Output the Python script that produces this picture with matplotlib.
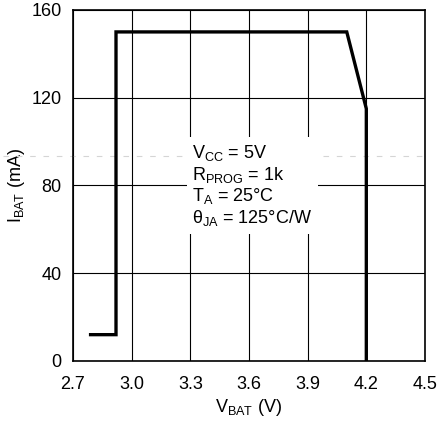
import matplotlib
matplotlib.use("Agg")
import matplotlib.pyplot as plt
from matplotlib.lines import Line2D

# Data
v_bat = [2.79, 2.92, 2.92, 4.10, 4.20, 4.20]
i_bat = [12, 12, 150, 150, 115, 0]
x_ticks = [2.7, 3.0, 3.3, 3.6, 3.9, 4.2, 4.5]
x_tick_labels = ["2.7", "3.0", "3.3", "3.6", "3.9", "4.2", "4.5"]
y_ticks = [0, 40, 80, 120, 160]
y_tick_labels = ["0", "40", "80", "120", "160"]

FONT = ["Liberation Sans Narrow", "Liberation Sans", "DejaVu Sans"]
plt.rcParams["font.family"] = FONT
plt.rcParams["mathtext.fontset"] = "custom"
plt.rcParams["mathtext.rm"] = "Liberation Sans"
plt.rcParams["mathtext.it"] = "Liberation Sans"
plt.rcParams["mathtext.default"] = "rm"

fig = plt.figure(figsize=(4.37, 4.23), dpi=100)
ax = fig.add_axes([0.167, 0.1466, 0.8055, 0.8298])

ax.set_xlim(2.7, 4.5)
ax.set_ylim(0, 160)
ax.set_xticks(x_ticks)
ax.set_xticklabels(x_tick_labels)
ax.set_yticks(y_ticks)
ax.set_yticklabels(y_tick_labels)
ax.tick_params(length=0, labelsize=13, pad=8)
ax.tick_params(axis="x", pad=11)
ax.grid(True, color="black", lw=0.8)
ax.set_axisbelow(True)
for s in ax.spines.values():
    s.set_linewidth(1.2)

# faint dashed scan artifact line
art_y = 1 - (156 - 10) / 351
ax.add_line(Line2D([-0.2, 1.0], [art_y, art_y], transform=ax.transAxes,
                   color="#d5d5d5", lw=0.8, ls=(0, (5, 7)), clip_on=False, zorder=1.5))

ax.plot(v_bat, i_bat, color="black", lw=2.4, solid_joinstyle="miter", zorder=3)

ax.text(3.31, 99.5,
        "V$_{CC}$ = 5V\nR$_{PROG}$ = 1k\nT$_A$ = 25°C\nθ$_{JA}$ = 125°C/W",
        fontsize=13, va="top", ha="left", linespacing=1.12,
        bbox=dict(facecolor="white", edgecolor="none", pad=4), zorder=2)

ax.set_xlabel("V$_{BAT}$ (V)", fontsize=13, labelpad=3)
ax.set_ylabel("I$_{BAT}$ (mA)", fontsize=13, labelpad=3)

fig.savefig("out.png", dpi=100)
